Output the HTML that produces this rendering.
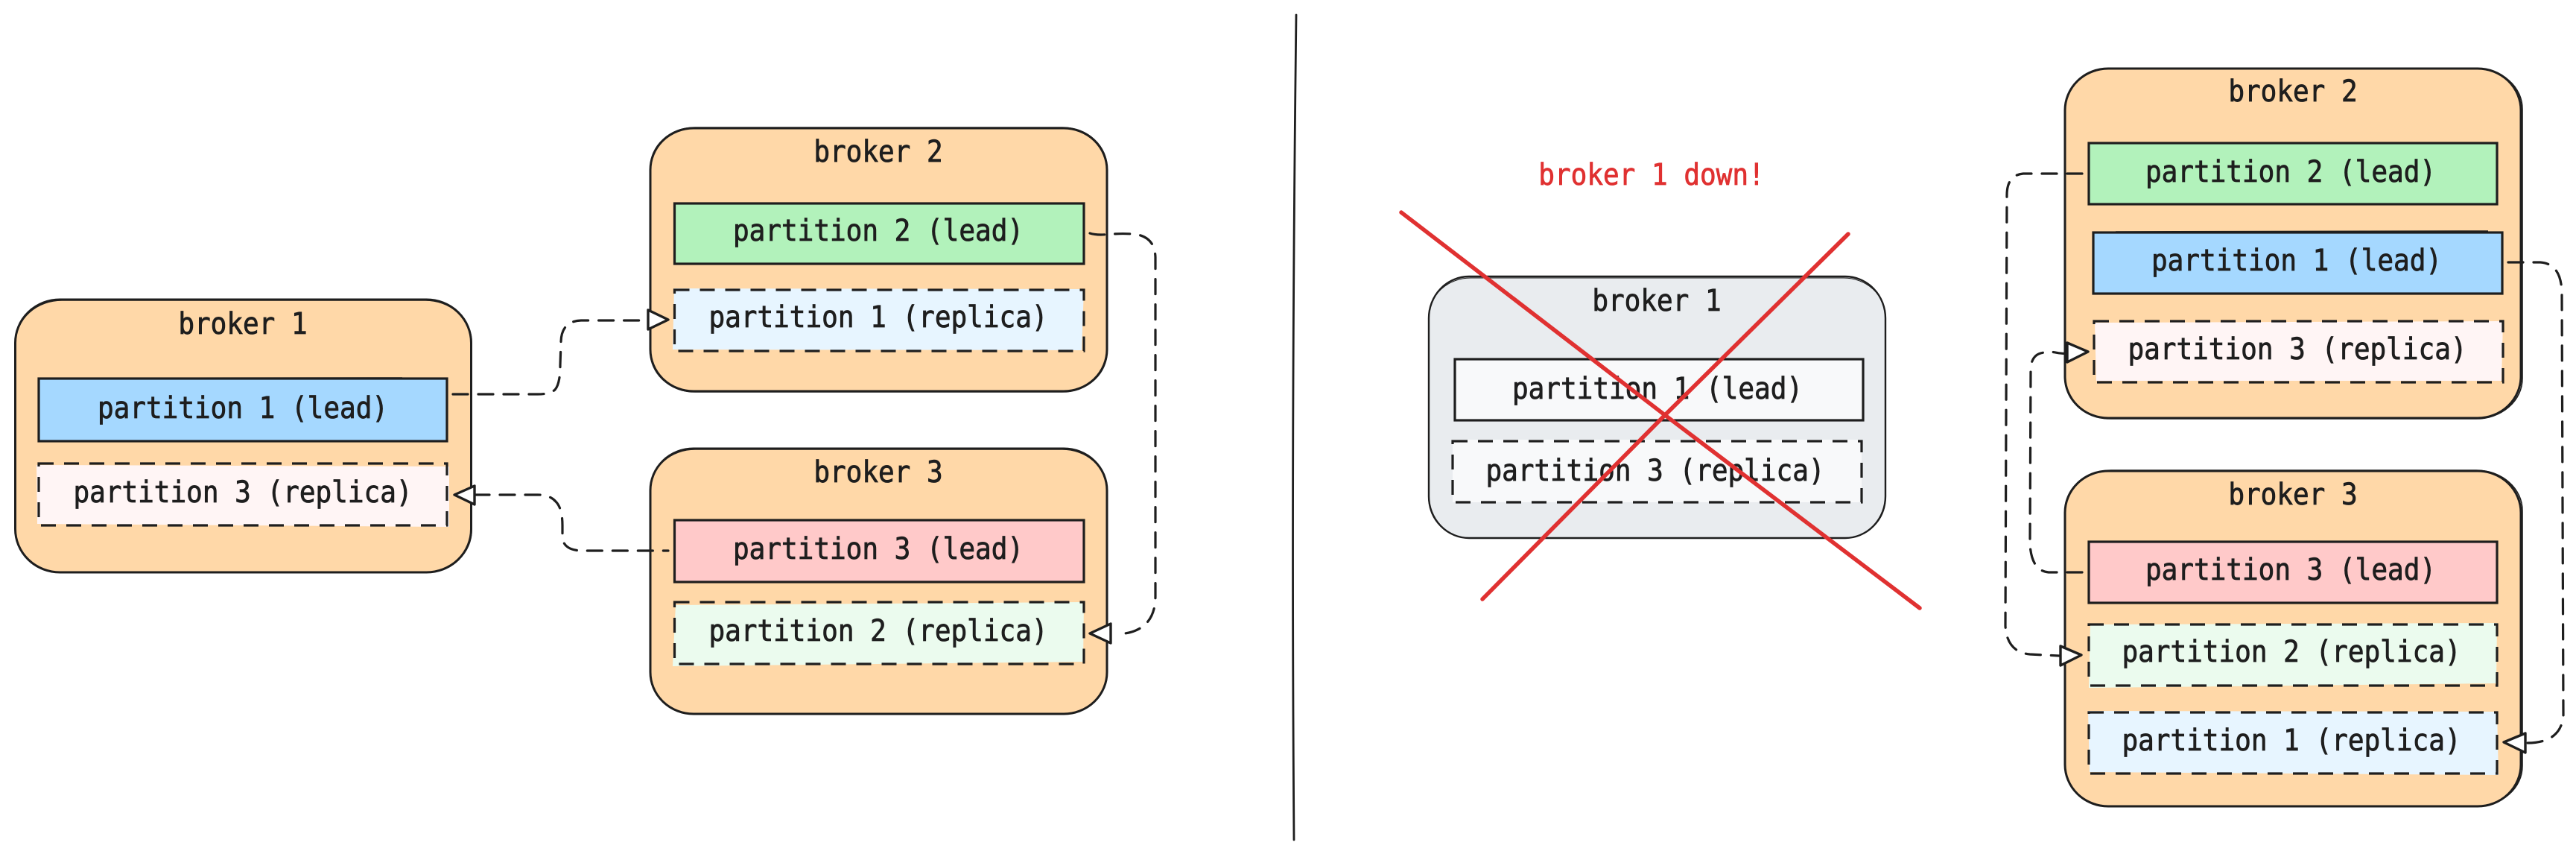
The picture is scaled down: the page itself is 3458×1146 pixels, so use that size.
<!DOCTYPE html>
<html><head><meta charset="utf-8"><style>
html,body{margin:0;padding:0;background:#fff}
svg{display:block}
text{font-family:"DejaVu Sans Mono","Liberation Mono",monospace;font-size:40px;fill:#1e1e1e;stroke:#1e1e1e;stroke-width:.8px;text-anchor:middle}
.b{fill:#ffd8a8;stroke:#1e1e1e;stroke-width:3}
.b2{fill:none;stroke:#1e1e1e;stroke-width:1.6}
.s{stroke:#1e1e1e;stroke-width:3.2}
.d{fill:none;stroke:#1e1e1e;stroke-width:3.2;stroke-dasharray:20 14}
.c{fill:none;stroke:#1e1e1e;stroke-width:3.2;stroke-dasharray:20 14;stroke-linecap:round}
.h{fill:#fff;stroke:#1e1e1e;stroke-width:3.4;stroke-linejoin:round}
.g{fill:#e9ecef;stroke:#1e1e1e;stroke-width:2.4}
.w{fill:#f8f9fa}
.r{fill:none;stroke:#e03131;stroke-width:5.5;stroke-linecap:round}
</style></head><body>
<svg width="3458" height="1146" viewBox="0 0 3458 1146" xmlns="http://www.w3.org/2000/svg">
<rect width="3458" height="1146" fill="#fff"/>

<!-- Left side: broker 1 -->
<rect class="b" x="20.5" y="402" width="612" height="366" rx="60" ry="58"/>
<rect class="b2" x="21" y="403" width="612" height="365" rx="62" ry="56"/>
<text transform="translate(326 448) scale(.9 1)">broker 1</text>
<rect x="52" y="508" width="548" height="84" fill="#a5d8ff" class="s"/>
<path d="M120 507.5L540 507M110 591.5L560 592.5" class="b2"/>
<text transform="translate(326 561) scale(.9 1)">partition 1 (lead)</text>
<polygon points="49,624 603,626 603,707 50,703" fill="#fff5f5"/>
<rect x="52" y="622" width="548" height="83" class="d"/>
<text transform="translate(326 674) scale(.9 1)">partition 3 (replica)</text>

<!-- broker 2 -->
<rect class="b" x="873" y="172" width="613" height="353" rx="58" ry="56"/>
<rect class="b2" x="873" y="171" width="613" height="355" rx="60" ry="54"/>
<text transform="translate(1179 217) scale(.9 1)">broker 2</text>
<rect x="905.5" y="273" width="549.5" height="81" fill="#b2f2bb" class="s"/>
<text transform="translate(1179 323) scale(.9 1)">partition 2 (lead)</text>
<polygon points="905,387 1455,388 1452,470 903,469" fill="#e7f5ff"/>
<rect x="905.5" y="389" width="549.5" height="82" class="d"/>
<text transform="translate(1179 439) scale(.9 1)">partition 1 (replica)</text>

<!-- broker 3 -->
<rect class="b" x="873" y="602" width="613" height="356" rx="58" ry="56"/>
<rect class="b2" x="873" y="603" width="613" height="355" rx="60" ry="54"/>
<text transform="translate(1179 647) scale(.9 1)">broker 3</text>
<rect x="905.5" y="698" width="549.5" height="83" fill="#ffc9c9" class="s"/>
<text transform="translate(1179 750) scale(.9 1)">partition 3 (lead)</text>
<polygon points="907,812 1455,808 1454,888 903,894" fill="#ebfbee"/>
<rect x="905.5" y="808" width="549.5" height="83" class="d"/>
<text transform="translate(1179 860) scale(.9 1)">partition 2 (replica)</text>

<!-- Left connectors -->
<path class="c" d="M608 529H722Q738 529 745 523Q752 515 752 490L753 460Q753 431 780 430H868"/>
<polygon class="h" points="870,416 897,429 870,442"/>
<path class="c" d="M637 664H722Q738 664 746 673Q755 682 755 705V722Q757 738 780 739H897"/>
<polygon class="h" points="637,652 610,664 637,677"/>
<path class="c" d="M1463 313C1478 318 1490 312 1520 314Q1550 316 1551 345V800Q1551 848 1501 851"/>
<polygon class="h" points="1491,837 1463,850 1491,863"/>

<!-- Divider -->
<path d="M1740 20Q1733 600 1737 1127" fill="none" stroke="#1e1e1e" stroke-width="2.8" stroke-linecap="round"/>

<!-- Middle: broker 1 down -->
<text transform="translate(2217 248) scale(.9 1)" style="fill:#e03131;stroke:#e03131">broker 1 down!</text>
<rect class="g" x="1918" y="371" width="613" height="351" rx="54" ry="56"/>
<rect x="1918" y="373" width="613" height="349" rx="56" ry="52" fill="none" stroke="#1e1e1e" stroke-width="1"/>
<text transform="translate(2224 417) scale(.9 1)">broker 1</text>
<rect x="1953" y="482" width="548" height="82" class="s w"/>
<text transform="translate(2225 535) scale(.9 1)">partition 1 (lead)</text>
<rect x="1950" y="590" width="549" height="84" class="w"/>
<rect x="1950" y="592" width="549" height="82" class="d"/>
<text transform="translate(2222 645) scale(.9 1)">partition 3 (replica)</text>
<path class="r" d="M1881 285L2235 557L2577 816"/>
<path class="r" d="M2481 314L2235 557L1990 804"/>

<!-- Right: broker 2 -->
<rect class="b" x="2772" y="92" width="612" height="469" rx="58" ry="56"/>
<rect class="b2" x="2772" y="92" width="614" height="470" rx="62" ry="54"/>
<text transform="translate(3078 136) scale(.9 1)">broker 2</text>
<rect x="2804" y="192" width="548" height="82" fill="#b2f2bb" class="s"/>
<text transform="translate(3075 244) scale(.9 1)">partition 2 (lead)</text>
<rect x="2810" y="312" width="549" height="82" fill="#a5d8ff" class="s"/>
<path d="M2840 311L3340 310" class="b2"/>
<text transform="translate(3083 363) scale(.9 1)">partition 1 (lead)</text>
<polygon points="2812,433 3360,431 3358,511 2814,511" fill="#fff5f5"/>
<rect x="2811" y="431" width="549" height="82" class="d"/>
<text transform="translate(3084 482) scale(.9 1)">partition 3 (replica)</text>

<!-- Right: broker 3 -->
<rect class="b" x="2772" y="632" width="612" height="450" rx="58" ry="56"/>
<rect class="b2" x="2772" y="631" width="614" height="451" rx="62" ry="54"/>
<text transform="translate(3078 677) scale(.9 1)">broker 3</text>
<rect x="2804" y="727" width="548" height="82" fill="#ffc9c9" class="s"/>
<text transform="translate(3075 778) scale(.9 1)">partition 3 (lead)</text>
<polygon points="2806,838 3352,836 3351,917 2804,923" fill="#ebfbee"/>
<rect x="2804" y="838" width="548" height="82" class="d"/>
<text transform="translate(3076 888) scale(.9 1)">partition 2 (replica)</text>
<polygon points="2803,954 3352,955 3354,1040 2805,1036" fill="#e7f5ff"/>
<rect x="2804" y="956" width="548" height="82" class="d"/>
<text transform="translate(3076 1007) scale(.9 1)">partition 1 (replica)</text>

<!-- Right connectors -->
<path class="c" d="M2795 233H2716Q2694 235 2694 262L2692 840Q2694 875 2725 878L2764 880"/>
<polygon class="h" points="2766,867 2794,879 2766,893"/>
<path class="c" d="M2795 768H2750Q2727 766 2725 730L2726 495Q2727 474 2745 473C2755 470 2765 476 2775 474"/>
<polygon class="h" points="2775,460 2803,472 2775,486"/>
<path class="c" d="M3367 352H3410Q3439 354 3439 395L3441 960Q3438 997 3392 997"/>
<polygon class="h" points="3390,984 3361,996 3390,1010"/>
</svg>
</body></html>
